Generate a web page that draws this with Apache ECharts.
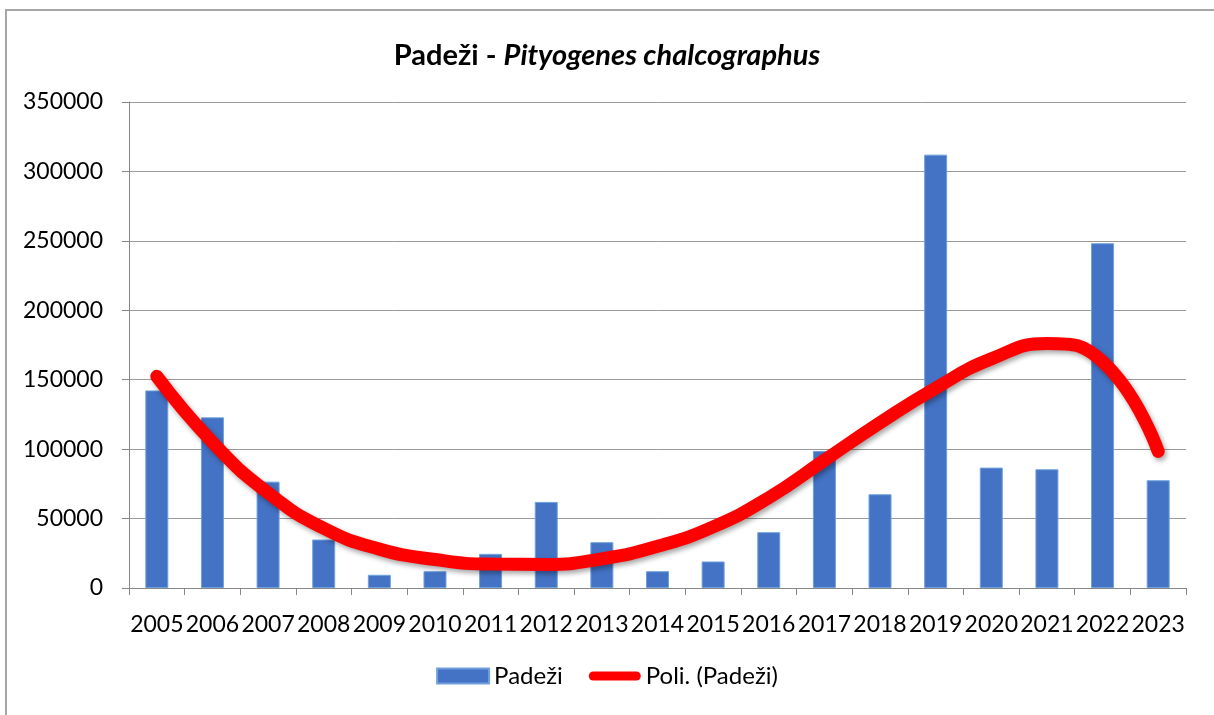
<!DOCTYPE html>
<html>
<head>
<meta charset="utf-8">
<script src="https://cdn.jsdelivr.net/npm/echarts@6/dist/echarts.min.js"></script>
<style>
  html, body { margin: 0; padding: 0; background: #fff; }
  #main { width: 1214px; height: 715px; }
</style>
</head>
<body>
<div id="main"></div>
<script>
// years on the x axis
const years = ['2005', '2006', '2007', '2008', '2009', '2010', '2011', '2012', '2013', '2014',
  '2015', '2016', '2017', '2018', '2019', '2020', '2021', '2022', '2023'];
// Padeži (bars)
const padezi = [142300, 122900, 76600, 34900, 9500, 12100, 24600, 62000, 33000, 12100,
  19100, 40200, 98700, 67500, 312100, 86700, 85500, 248300, 77600];
// Poli. (Padeži) - trend line
const trend = [152400, 105000, 68500, 43000, 28000, 20500, 17200, 17000, 21000, 30000,
  44000, 65000, 92000, 119000, 144000, 165000, 176000, 163000, 98400];

const font = 'Lato, "Open Sans", sans-serif';
const chart = echarts.init(document.getElementById('main'));

const option = {
  backgroundColor: '#fff',
  animation: false,
  textStyle: { fontFamily: font, color: '#000' },
  title: {
    text: '{b|Padeži - }{i|Pityogenes chalcographus}',
    left: 'center',
    top: 36,
    textStyle: {
      fontFamily: font,
      fontSize: 29,
      fontWeight: 'bold',
      rich: {
        b: { fontFamily: font, fontWeight: 'bold', fontSize: 29, color: '#000' },
        i: { fontFamily: font, fontWeight: 'bold', fontStyle: 'italic', fontSize: 29, color: '#000' }
      }
    }
  },
  graphic: [{
    type: 'rect',
    shape: { x: 6, y: 10, width: 1220, height: 720 },
    style: { fill: 'none', stroke: '#a6a6a6', lineWidth: 2 },
    silent: true
  }],
  grid: { left: 129, right: 28, top: 102, bottom: 127 },
  legend: {
    bottom: 22,
    left: 'center',
    itemWidth: 52,
    itemHeight: 15,
    itemGap: 26,
    textStyle: { fontFamily: font, fontSize: 24, color: '#000' },
    data: [
      { name: 'Padeži', icon: 'rect' },
      { name: 'Poli. (Padeži)', icon: 'path://M5,0L53,0A5,5,0,0,1,53,10L5,10A5,5,0,0,1,5,0Z' }
    ]
  },
  xAxis: {
    type: 'category',
    data: years,
    axisLine: { lineStyle: { color: '#868686', width: 1 } },
    axisTick: { show: true, length: 7, lineStyle: { color: '#868686' } },
    axisLabel: { fontFamily: font, fontSize: 23, color: '#000', margin: 25, interval: 0 }
  },
  yAxis: {
    type: 'value',
    min: 0,
    max: 350000,
    interval: 50000,
    axisLine: { show: true, lineStyle: { color: '#868686', width: 1 } },
    axisTick: { show: true, length: 7, lineStyle: { color: '#868686' } },
    axisLabel: {
      fontFamily: font, fontSize: 23, color: '#000', margin: 26,
      formatter: v => String(v)
    },
    splitLine: { lineStyle: { color: '#9a9a9a', width: 1 } }
  },
  series: [
    {
      name: 'Padeži',
      type: 'bar',
      data: padezi,
      barWidth: 23,
      itemStyle: { color: '#4472C4', borderColor: '#6fa2dc', borderWidth: 1 }
    },
    {
      name: 'Poli. (Padeži)',
      type: 'line',
      data: trend,
      smooth: true,
      symbol: 'none',
      z: 5,
      lineStyle: {
        color: '#ff0000',
        width: 13,
        cap: 'round',
        shadowColor: 'rgba(0,0,0,0.35)',
        shadowBlur: 5,
        shadowOffsetX: 2,
        shadowOffsetY: 3
      },
      itemStyle: { color: '#ff0000' }
    }
  ]
};

chart.setOption(option);
</script>
</body>
</html>
